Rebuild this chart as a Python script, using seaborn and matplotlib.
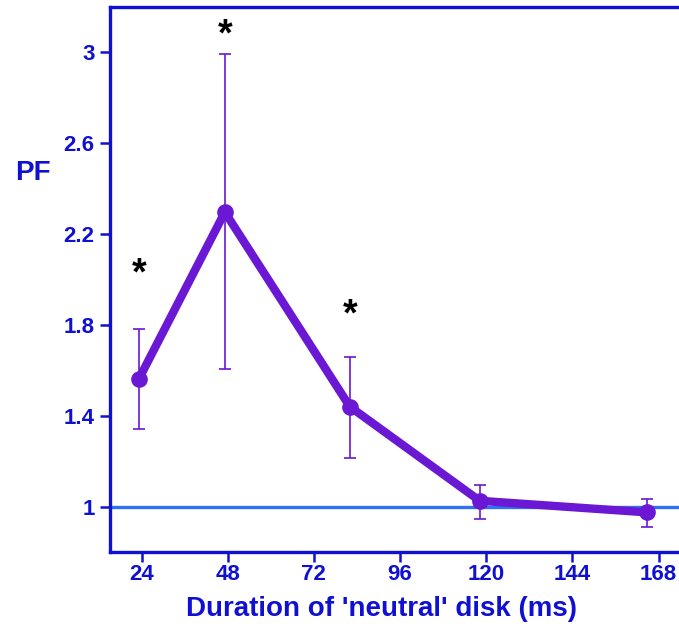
import pandas as pd
import matplotlib
matplotlib.use("Agg")
import matplotlib.pyplot as plt
import seaborn as sns

# Data
duration = [23.2, 47.2, 82.0, 118.2, 164.9]
pf_mean = [1.563, 2.298, 1.443, 1.029, 0.978]
err_low = [0.218, 0.688, 0.225, 0.079, 0.062]
err_high = [0.223, 0.695, 0.217, 0.070, 0.057]
signif = [True, True, True, False, False]
star_y = [2.025, 3.075, 1.845]

x_ticks = [24, 48, 72, 96, 120, 144, 168]
y_ticks = [1, 1.4, 1.8, 2.2, 2.6, 3]
y_ticklabels = ["1", "1.4", "1.8", "2.2", "2.6", "3"]

df = pd.DataFrame({"Duration": duration, "PF": pf_mean})

blue = "#1010d2"
purple = "#6a18d4"

sns.set_style("white")
plt.rcParams['font.family'] = ['Liberation Sans', 'DejaVu Sans']

fig = plt.figure(figsize=(6.79, 6.27), dpi=100)
ax = fig.add_axes([0.162, 0.120, 0.838, 0.869])

# reference line at PF = 1
ax.axhline(1, color="#2f70f4", lw=2.4, zorder=1)

ax.errorbar(duration, pf_mean, yerr=[err_low, err_high], fmt='none',
            ecolor=purple, elinewidth=1.2, capsize=4, capthick=1.2, zorder=2)
sns.lineplot(data=df, x="Duration", y="PF", ax=ax, color=purple, lw=6,
             marker='o', markersize=12, markeredgewidth=0, zorder=3)

# asterisks for significant points
sx = [d for d, s in zip(duration, signif) if s]
for x, y in zip(sx, star_y):
    ax.text(x, y, "*", ha='center', va='center', fontsize=27,
            fontweight='bold', color='black')

ax.set_xlim(15.2, 173.7)
ax.set_ylim(0.805, 3.2)
ax.set_xticks(x_ticks)
ax.set_yticks(y_ticks)
ax.set_yticklabels(y_ticklabels)
ax.tick_params(axis='both', colors=blue, direction='out', length=7, width=1.8,
               labelsize=16, left=True, bottom=True)
ax.tick_params(axis='x', pad=2)
ax.tick_params(axis='y', pad=4)
for lab in ax.get_xticklabels() + ax.get_yticklabels():
    lab.set_fontweight('bold')

for side in ['left', 'bottom', 'top']:
    ax.spines[side].set_color(blue)
    ax.spines[side].set_linewidth(2.4)
ax.spines['right'].set_visible(False)

ax.set_xlabel("Duration of 'neutral' disk (ms)", fontsize=20, fontweight='bold',
              color=blue)
ax.xaxis.set_label_coords(0.478, -0.082)
ax.set_ylabel("")
fig.text(0.022, 0.724, "PF", fontsize=20, fontweight='bold', color=blue,
         ha='left', va='center')

plt.savefig("out.png", dpi=100)
